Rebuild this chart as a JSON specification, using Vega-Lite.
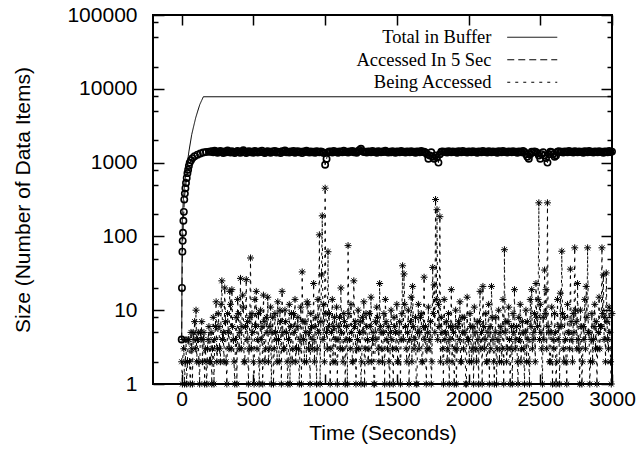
{
  "$schema": "https://vega.github.io/schema/vega-lite/v6.json",
  "width": 459,
  "height": 369,
  "autosize": {"type": "none"},
  "padding": {"left": 153, "top": 15, "right": 30, "bottom": 73},
  "background": "white",
  "config": {
    "view": {"stroke": "black", "strokeWidth": 2},
    "axis": {
      "domain": false,
      "grid": false,
      "tickColor": "black",
      "tickWidth": 1.5,
      "labelColor": "black",
      "titleColor": "black",
      "labelFont": "Liberation Sans",
      "titleFont": "Liberation Sans",
      "labelFontSize": 21,
      "titleFontSize": 21,
      "titleFontWeight": "normal",
      "labelOverlap": false,
      "labelFlush": false
    },
    "legend": {
      "orient": "none",
      "legendX": 330,
      "legendY": 13,
      "padding": 0,
      "symbolType": "M-5,0L5,0",
      "symbolSize": 100,
      "symbolStrokeWidth": 1,
      "symbolStrokeColor": "black",
      "symbolFillColor": "transparent",
      "symbolOffset": 40,
      "labelFont": "Liberation Serif",
      "labelFontSize": 18.5,
      "labelColor": "black",
      "labelAlign": "right",
      "labelOffset": -50,
      "rowPadding": 3.5,
      "labelLimit": 0
    }
  },
  "datasets": {
    "total": [
      {"t": 0, "v": 4}, {"t": 3, "v": 100}, {"t": 6, "v": 200}, {"t": 10, "v": 280}, {"t": 14, "v": 365},
      {"t": 20, "v": 500}, {"t": 35, "v": 850}, {"t": 50, "v": 1400}, {"t": 70, "v": 2400}, {"t": 85, "v": 3200},
      {"t": 98, "v": 4070}, {"t": 112, "v": 5000}, {"t": 126, "v": 6100}, {"t": 140, "v": 7000}, {"t": 151, "v": 7800},
      {"t": 3000, "v": 7800}
    ],
    "acc": [
      {"t":0,"v":4},{"t":2,"v":20},{"t":5,"v":62},{"t":7,"v":87},{"t":9,"v":112},{"t":12,"v":163},{"t":15,"v":215},{"t":18,"v":315},{"t":22,"v":380},{"t":26,"v":450},{"t":30,"v":530},{"t":35,"v":620},{"t":40,"v":720},{"t":45,"v":800},{"t":50,"v":900},{"t":56,"v":1000},{"t":65,"v":1080},{"t":75,"v":1150},{"t":90,"v":1220},{"t":110,"v":1280},{"t":130,"v":1330},{"t":150,"v":1370},{"t":170,"v":1390},{"t":190,"v":1410},
      {"t":200,"v":1400},{"t":210,"v":1430},{"t":220,"v":1380},{"t":230,"v":1450},{"t":240,"v":1420},{"t":250,"v":1360},{"t":260,"v":1400},{"t":270,"v":1440},{"t":280,"v":1390},{"t":290,"v":1350},
      {"t":300,"v":1420},{"t":310,"v":1380},{"t":320,"v":1460},{"t":330,"v":1400},{"t":340,"v":1370},{"t":350,"v":1430},{"t":360,"v":1390},{"t":370,"v":1350},{"t":380,"v":1410},{"t":390,"v":1440},
      {"t":400,"v":1380},{"t":410,"v":1360},{"t":420,"v":1420},{"t":430,"v":1470},{"t":440,"v":1390},{"t":450,"v":1350},{"t":460,"v":1400},{"t":470,"v":1430},{"t":480,"v":1380},{"t":490,"v":1410},
      {"t":500,"v":1360},{"t":510,"v":1440},{"t":520,"v":1400},{"t":530,"v":1370},{"t":540,"v":1420},{"t":550,"v":1390},{"t":560,"v":1450},{"t":570,"v":1380},{"t":580,"v":1350},{"t":590,"v":1410},
      {"t":600,"v":1430},{"t":610,"v":1390},{"t":620,"v":1360},{"t":630,"v":1420},{"t":640,"v":1400},{"t":650,"v":1440},{"t":660,"v":1370},{"t":670,"v":1410},{"t":680,"v":1390},{"t":690,"v":1350},
      {"t":700,"v":1430},{"t":710,"v":1400},{"t":720,"v":1460},{"t":730,"v":1380},{"t":740,"v":1410},{"t":750,"v":1370},{"t":760,"v":1420},{"t":770,"v":1390},{"t":780,"v":1440},{"t":790,"v":1360},
      {"t":800,"v":1400},{"t":810,"v":1430},{"t":820,"v":1380},{"t":830,"v":1410},{"t":840,"v":1350},{"t":850,"v":1420},{"t":860,"v":1390},{"t":870,"v":1450},{"t":880,"v":1400},{"t":890,"v":1370},
      {"t":900,"v":1420},{"t":910,"v":1380},{"t":920,"v":1410},{"t":930,"v":1360},{"t":940,"v":1430},{"t":950,"v":1400},{"t":960,"v":1380},{"t":970,"v":1420},{"t":980,"v":1390},{"t":990,"v":1350},
      {"t":1000,"v":935},{"t":1010,"v":1120},{"t":1020,"v":1380},{"t":1030,"v":1420},{"t":1040,"v":1400},{"t":1050,"v":1370},{"t":1060,"v":1440},{"t":1070,"v":1390},{"t":1080,"v":1410},{"t":1090,"v":1360},
      {"t":1100,"v":1420},{"t":1110,"v":1400},{"t":1120,"v":1380},{"t":1130,"v":1450},{"t":1140,"v":1390},{"t":1150,"v":1410},{"t":1160,"v":1370},{"t":1170,"v":1420},{"t":1180,"v":1400},{"t":1190,"v":1440},
      {"t":1200,"v":1380},{"t":1210,"v":1410},{"t":1220,"v":1360},{"t":1230,"v":1430},{"t":1240,"v":1480},{"t":1250,"v":1540},{"t":1260,"v":1420},{"t":1270,"v":1390},{"t":1280,"v":1410},{"t":1290,"v":1370},
      {"t":1300,"v":1420},{"t":1310,"v":1400},{"t":1320,"v":1380},{"t":1330,"v":1440},{"t":1340,"v":1390},{"t":1350,"v":1410},{"t":1360,"v":1360},{"t":1370,"v":1430},{"t":1380,"v":1400},{"t":1390,"v":1380},
      {"t":1400,"v":1420},{"t":1410,"v":1390},{"t":1420,"v":1450},{"t":1430,"v":1400},{"t":1440,"v":1370},{"t":1450,"v":1410},{"t":1460,"v":1380},{"t":1470,"v":1430},{"t":1480,"v":1390},{"t":1490,"v":1360},
      {"t":1500,"v":1420},{"t":1510,"v":1400},{"t":1520,"v":1380},{"t":1530,"v":1440},{"t":1540,"v":1390},{"t":1550,"v":1410},{"t":1560,"v":1370},{"t":1570,"v":1420},{"t":1580,"v":1400},{"t":1590,"v":1380},
      {"t":1600,"v":1430},{"t":1610,"v":1390},{"t":1620,"v":1410},{"t":1630,"v":1360},{"t":1640,"v":1420},{"t":1650,"v":1400},{"t":1660,"v":1380},{"t":1670,"v":1440},{"t":1680,"v":1390},{"t":1690,"v":1410},
      {"t":1700,"v":1370},{"t":1710,"v":1300},{"t":1720,"v":1130},{"t":1730,"v":1250},{"t":1740,"v":1380},{"t":1750,"v":1200},{"t":1760,"v":1130},{"t":1770,"v":1250},{"t":1780,"v":1180},{"t":1790,"v":1000},
      {"t":1800,"v":1300},{"t":1810,"v":1400},{"t":1820,"v":1420},{"t":1830,"v":1390},{"t":1840,"v":1410},{"t":1850,"v":1370},{"t":1860,"v":1430},{"t":1870,"v":1400},{"t":1880,"v":1380},{"t":1890,"v":1420},
      {"t":1900,"v":1390},{"t":1910,"v":1410},{"t":1920,"v":1360},{"t":1930,"v":1430},{"t":1940,"v":1400},{"t":1950,"v":1380},{"t":1960,"v":1440},{"t":1970,"v":1390},{"t":1980,"v":1410},{"t":1990,"v":1370},
      {"t":2000,"v":1420},{"t":2010,"v":1400},{"t":2020,"v":1380},{"t":2030,"v":1430},{"t":2040,"v":1390},{"t":2050,"v":1410},{"t":2060,"v":1360},{"t":2070,"v":1420},{"t":2080,"v":1400},{"t":2090,"v":1380},
      {"t":2100,"v":1440},{"t":2110,"v":1390},{"t":2120,"v":1410},{"t":2130,"v":1370},{"t":2140,"v":1430},{"t":2150,"v":1400},{"t":2160,"v":1380},{"t":2170,"v":1420},{"t":2180,"v":1390},{"t":2190,"v":1410},
      {"t":2200,"v":1360},{"t":2210,"v":1430},{"t":2220,"v":1400},{"t":2230,"v":1380},{"t":2240,"v":1440},{"t":2250,"v":1390},{"t":2260,"v":1410},{"t":2270,"v":1370},{"t":2280,"v":1420},{"t":2290,"v":1400},
      {"t":2300,"v":1380},{"t":2310,"v":1430},{"t":2320,"v":1390},{"t":2330,"v":1410},{"t":2340,"v":1360},{"t":2350,"v":1420},{"t":2360,"v":1400},{"t":2370,"v":1380},{"t":2380,"v":1440},{"t":2390,"v":1390},
      {"t":2400,"v":1300},{"t":2410,"v":1200},{"t":2420,"v":1130},{"t":2430,"v":1300},{"t":2440,"v":1400},{"t":2450,"v":1380},{"t":2460,"v":1420},{"t":2470,"v":1390},{"t":2480,"v":1350},{"t":2490,"v":1250},
      {"t":2500,"v":1130},{"t":2510,"v":1300},{"t":2520,"v":1380},{"t":2530,"v":1250},{"t":2540,"v":1150},{"t":2550,"v":1000},{"t":2560,"v":1300},{"t":2570,"v":1400},{"t":2580,"v":1380},{"t":2590,"v":1300},
      {"t":2600,"v":1200},{"t":2610,"v":1250},{"t":2620,"v":1400},{"t":2630,"v":1430},{"t":2640,"v":1390},{"t":2650,"v":1410},{"t":2660,"v":1370},{"t":2670,"v":1420},{"t":2680,"v":1400},{"t":2690,"v":1380},
      {"t":2700,"v":1440},{"t":2710,"v":1390},{"t":2720,"v":1410},{"t":2730,"v":1370},{"t":2740,"v":1430},{"t":2750,"v":1400},{"t":2760,"v":1380},{"t":2770,"v":1420},{"t":2780,"v":1390},{"t":2790,"v":1410},
      {"t":2800,"v":1360},{"t":2810,"v":1430},{"t":2820,"v":1400},{"t":2830,"v":1380},{"t":2840,"v":1440},{"t":2850,"v":1390},{"t":2860,"v":1410},{"t":2870,"v":1370},{"t":2880,"v":1420},{"t":2890,"v":1400},
      {"t":2900,"v":1380},{"t":2910,"v":1430},{"t":2920,"v":1390},{"t":2930,"v":1410},{"t":2940,"v":1360},{"t":2950,"v":1420},{"t":2960,"v":1400},{"t":2970,"v":1380},{"t":2980,"v":1440},{"t":2990,"v":1390},{"t":3000,"v":1410}
    ],
    "being": [
      {"t":0,"v":2},{"t":10,"v":4},{"t":20,"v":1},{"t":30,"v":4},{"t":40,"v":2},{"t":50,"v":4},{"t":60,"v":1},{"t":70,"v":3},{"t":80,"v":5},{"t":90,"v":7},
      {"t":100,"v":10},{"t":110,"v":4},{"t":120,"v":2},{"t":130,"v":5},{"t":140,"v":7},{"t":150,"v":4},{"t":160,"v":1},{"t":170,"v":2},{"t":180,"v":3},{"t":190,"v":6},
      {"t":200,"v":2},{"t":210,"v":1},{"t":220,"v":8},{"t":230,"v":4},{"t":240,"v":13},{"t":250,"v":3},{"t":260,"v":6},{"t":270,"v":2},{"t":280,"v":25},{"t":290,"v":5},
      {"t":300,"v":20},{"t":310,"v":2},{"t":320,"v":9},{"t":330,"v":3},{"t":340,"v":12},{"t":350,"v":19},{"t":360,"v":4},{"t":370,"v":1},{"t":380,"v":8},{"t":390,"v":14},
      {"t":400,"v":3},{"t":410,"v":27},{"t":420,"v":6},{"t":430,"v":11},{"t":440,"v":2},{"t":450,"v":26},{"t":460,"v":7},{"t":470,"v":3},{"t":480,"v":51},{"t":490,"v":9},
      {"t":500,"v":2},{"t":510,"v":14},{"t":520,"v":18},{"t":530,"v":4},{"t":540,"v":1},{"t":550,"v":10},{"t":560,"v":6},{"t":570,"v":16},{"t":580,"v":2},{"t":590,"v":8},
      {"t":600,"v":15},{"t":610,"v":3},{"t":620,"v":11},{"t":630,"v":5},{"t":640,"v":1},{"t":650,"v":9},{"t":660,"v":4},{"t":670,"v":13},{"t":680,"v":2},{"t":690,"v":7},
      {"t":700,"v":18},{"t":710,"v":3},{"t":720,"v":10},{"t":730,"v":5},{"t":740,"v":1},{"t":750,"v":12},{"t":760,"v":6},{"t":770,"v":2},{"t":780,"v":9},{"t":790,"v":14},
      {"t":800,"v":3},{"t":810,"v":8},{"t":820,"v":1},{"t":830,"v":11},{"t":840,"v":33},{"t":850,"v":4},{"t":860,"v":7},{"t":870,"v":2},{"t":880,"v":12},{"t":890,"v":5},
      {"t":900,"v":9},{"t":910,"v":3},{"t":920,"v":23},{"t":930,"v":6},{"t":940,"v":1},{"t":950,"v":14},{"t":960,"v":105},{"t":970,"v":7},{"t":980,"v":190},{"t":990,"v":12},
      {"t":1000,"v":450},{"t":1010,"v":5},{"t":1020,"v":62},{"t":1030,"v":9},{"t":1040,"v":3},{"t":1050,"v":14},{"t":1060,"v":6},{"t":1070,"v":2},{"t":1080,"v":11},{"t":1090,"v":4},
      {"t":1100,"v":8},{"t":1110,"v":20},{"t":1120,"v":3},{"t":1130,"v":9},{"t":1140,"v":1},{"t":1150,"v":6},{"t":1160,"v":75},{"t":1170,"v":4},{"t":1180,"v":12},{"t":1190,"v":2},
      {"t":1200,"v":25},{"t":1210,"v":7},{"t":1220,"v":3},{"t":1230,"v":10},{"t":1240,"v":5},{"t":1250,"v":1},{"t":1260,"v":8},{"t":1270,"v":13},{"t":1280,"v":3},{"t":1290,"v":6},
      {"t":1300,"v":2},{"t":1310,"v":9},{"t":1320,"v":15},{"t":1330,"v":4},{"t":1340,"v":1},{"t":1350,"v":7},{"t":1360,"v":11},{"t":1370,"v":3},{"t":1380,"v":23},{"t":1390,"v":5},
      {"t":1400,"v":2},{"t":1410,"v":9},{"t":1420,"v":14},{"t":1430,"v":4},{"t":1440,"v":6},{"t":1450,"v":1},{"t":1460,"v":10},{"t":1470,"v":3},{"t":1480,"v":8},{"t":1490,"v":5},
      {"t":1500,"v":12},{"t":1510,"v":2},{"t":1520,"v":7},{"t":1530,"v":4},{"t":1540,"v":40},{"t":1550,"v":31},{"t":1560,"v":6},{"t":1570,"v":2},{"t":1580,"v":10},{"t":1590,"v":4},
      {"t":1600,"v":15},{"t":1610,"v":21},{"t":1620,"v":3},{"t":1630,"v":8},{"t":1640,"v":1},{"t":1650,"v":12},{"t":1660,"v":5},{"t":1670,"v":9},{"t":1680,"v":2},{"t":1690,"v":28},
      {"t":1700,"v":6},{"t":1710,"v":3},{"t":1720,"v":11},{"t":1730,"v":4},{"t":1740,"v":1},{"t":1750,"v":38},{"t":1760,"v":22},{"t":1770,"v":316},{"t":1780,"v":230},{"t":1790,"v":12},
      {"t":1800,"v":185},{"t":1810,"v":8},{"t":1820,"v":3},{"t":1830,"v":14},{"t":1840,"v":5},{"t":1850,"v":2},{"t":1860,"v":9},{"t":1870,"v":4},{"t":1880,"v":19},{"t":1890,"v":6},
      {"t":1900,"v":1},{"t":1910,"v":10},{"t":1920,"v":3},{"t":1930,"v":7},{"t":1940,"v":13},{"t":1950,"v":2},{"t":1960,"v":5},{"t":1970,"v":8},{"t":1980,"v":1},{"t":1990,"v":15},
      {"t":2000,"v":4},{"t":2010,"v":9},{"t":2020,"v":2},{"t":2030,"v":6},{"t":2040,"v":11},{"t":2050,"v":3},{"t":2060,"v":7},{"t":2070,"v":1},{"t":2080,"v":18},{"t":2090,"v":5},
      {"t":2100,"v":21},{"t":2110,"v":3},{"t":2120,"v":9},{"t":2130,"v":2},{"t":2140,"v":12},{"t":2150,"v":6},{"t":2160,"v":21},{"t":2170,"v":4},{"t":2180,"v":1},{"t":2190,"v":8},
      {"t":2200,"v":3},{"t":2210,"v":10},{"t":2220,"v":5},{"t":2230,"v":2},{"t":2240,"v":14},{"t":2250,"v":66},{"t":2260,"v":7},{"t":2270,"v":3},{"t":2280,"v":11},{"t":2290,"v":1},
      {"t":2300,"v":6},{"t":2310,"v":9},{"t":2320,"v":19},{"t":2330,"v":4},{"t":2340,"v":2},{"t":2350,"v":8},{"t":2360,"v":12},{"t":2370,"v":3},{"t":2380,"v":5},{"t":2390,"v":1},
      {"t":2400,"v":10},{"t":2410,"v":7},{"t":2420,"v":2},{"t":2430,"v":14},{"t":2440,"v":19},{"t":2450,"v":4},{"t":2460,"v":9},{"t":2470,"v":23},{"t":2480,"v":6},{"t":2490,"v":285},
      {"t":2500,"v":12},{"t":2510,"v":3},{"t":2520,"v":8},{"t":2530,"v":35},{"t":2540,"v":19},{"t":2550,"v":285},{"t":2560,"v":5},{"t":2570,"v":2},{"t":2580,"v":11},{"t":2590,"v":4},
      {"t":2600,"v":9},{"t":2610,"v":1},{"t":2620,"v":14},{"t":2630,"v":6},{"t":2640,"v":17},{"t":2650,"v":63},{"t":2660,"v":3},{"t":2670,"v":8},{"t":2680,"v":2},{"t":2690,"v":12},
      {"t":2700,"v":5},{"t":2710,"v":36},{"t":2720,"v":4},{"t":2730,"v":9},{"t":2740,"v":70},{"t":2750,"v":7},{"t":2760,"v":23},{"t":2770,"v":3},{"t":2780,"v":10},{"t":2790,"v":1},
      {"t":2800,"v":6},{"t":2810,"v":14},{"t":2820,"v":21},{"t":2830,"v":70},{"t":2840,"v":5},{"t":2850,"v":2},{"t":2860,"v":9},{"t":2870,"v":4},{"t":2880,"v":12},{"t":2890,"v":7},
      {"t":2900,"v":3},{"t":2910,"v":15},{"t":2920,"v":6},{"t":2930,"v":70},{"t":2940,"v":30},{"t":2950,"v":8},{"t":2960,"v":32},{"t":2970,"v":4},{"t":2980,"v":11},{"t":2990,"v":2},{"t":3000,"v":9},
      {"t":5,"v":1},{"t":15,"v":3},{"t":25,"v":2},{"t":35,"v":1},{"t":45,"v":4},{"t":55,"v":2},{"t":65,"v":5},{"t":75,"v":1},{"t":85,"v":4},{"t":95,"v":3},
      {"t":105,"v":2},{"t":115,"v":5},{"t":125,"v":1},{"t":135,"v":4},{"t":145,"v":2},{"t":155,"v":5},{"t":165,"v":3},{"t":175,"v":1},{"t":185,"v":4},{"t":195,"v":2},
      {"t":205,"v":5},{"t":215,"v":3},{"t":225,"v":1},{"t":235,"v":6},{"t":245,"v":2},{"t":255,"v":9},{"t":265,"v":3},{"t":275,"v":12},{"t":285,"v":4},{"t":295,"v":2},
      {"t":305,"v":7},{"t":315,"v":1},{"t":325,"v":5},{"t":335,"v":18},{"t":345,"v":3},{"t":355,"v":6},{"t":365,"v":2},{"t":375,"v":4},{"t":385,"v":1},{"t":395,"v":9},
      {"t":405,"v":5},{"t":415,"v":3},{"t":425,"v":16},{"t":435,"v":2},{"t":445,"v":6},{"t":455,"v":4},{"t":465,"v":1},{"t":475,"v":8},{"t":485,"v":3},{"t":495,"v":5},
      {"t":505,"v":1},{"t":515,"v":6},{"t":525,"v":3},{"t":535,"v":9},{"t":545,"v":2},{"t":555,"v":4},{"t":565,"v":1},{"t":575,"v":7},{"t":585,"v":3},{"t":595,"v":5},
      {"t":605,"v":2},{"t":615,"v":6},{"t":625,"v":1},{"t":635,"v":8},{"t":645,"v":3},{"t":655,"v":5},{"t":665,"v":2},{"t":675,"v":4},{"t":685,"v":10},{"t":695,"v":1},
      {"t":705,"v":5},{"t":715,"v":3},{"t":725,"v":7},{"t":735,"v":2},{"t":745,"v":4},{"t":755,"v":1},{"t":765,"v":9},{"t":775,"v":3},{"t":785,"v":5},{"t":795,"v":2},
      {"t":805,"v":6},{"t":815,"v":3},{"t":825,"v":4},{"t":835,"v":1},{"t":845,"v":7},{"t":855,"v":2},{"t":865,"v":5},{"t":875,"v":13},{"t":885,"v":3},{"t":895,"v":1},
      {"t":905,"v":6},{"t":915,"v":4},{"t":925,"v":2},{"t":935,"v":8},{"t":945,"v":3},{"t":955,"v":5},{"t":965,"v":1},{"t":975,"v":30},{"t":985,"v":4},{"t":995,"v":2},
      {"t":1005,"v":9},{"t":1015,"v":3},{"t":1025,"v":6},{"t":1035,"v":1},{"t":1045,"v":5},{"t":1055,"v":2},{"t":1065,"v":8},{"t":1075,"v":4},{"t":1085,"v":1},{"t":1095,"v":6},
      {"t":1105,"v":3},{"t":1115,"v":5},{"t":1125,"v":2},{"t":1135,"v":7},{"t":1145,"v":4},{"t":1155,"v":1},{"t":1165,"v":9},{"t":1175,"v":3},{"t":1185,"v":5},{"t":1195,"v":2},
      {"t":1205,"v":6},{"t":1215,"v":1},{"t":1225,"v":4},{"t":1235,"v":3},{"t":1245,"v":7},{"t":1255,"v":2},{"t":1265,"v":5},{"t":1275,"v":1},{"t":1285,"v":9},{"t":1295,"v":4},
      {"t":1305,"v":3},{"t":1315,"v":6},{"t":1325,"v":2},{"t":1335,"v":5},{"t":1345,"v":1},{"t":1355,"v":4},{"t":1365,"v":8},{"t":1375,"v":2},{"t":1385,"v":6},{"t":1395,"v":3},
      {"t":1405,"v":5},{"t":1415,"v":1},{"t":1425,"v":7},{"t":1435,"v":3},{"t":1445,"v":2},{"t":1455,"v":5},{"t":1465,"v":4},{"t":1475,"v":1},{"t":1485,"v":6},{"t":1495,"v":3},
      {"t":1505,"v":2},{"t":1515,"v":5},{"t":1525,"v":1},{"t":1535,"v":9},{"t":1545,"v":4},{"t":1555,"v":12},{"t":1565,"v":3},{"t":1575,"v":5},{"t":1585,"v":1},{"t":1595,"v":7},
      {"t":1605,"v":2},{"t":1615,"v":6},{"t":1625,"v":4},{"t":1635,"v":1},{"t":1645,"v":5},{"t":1655,"v":3},{"t":1665,"v":8},{"t":1675,"v":2},{"t":1685,"v":6},{"t":1695,"v":4},
      {"t":1705,"v":1},{"t":1715,"v":5},{"t":1725,"v":3},{"t":1735,"v":7},{"t":1745,"v":2},{"t":1755,"v":9},{"t":1765,"v":5},{"t":1775,"v":14},{"t":1785,"v":4},{"t":1795,"v":6},
      {"t":1805,"v":2},{"t":1815,"v":5},{"t":1825,"v":1},{"t":1835,"v":4},{"t":1845,"v":7},{"t":1855,"v":3},{"t":1865,"v":1},{"t":1875,"v":6},{"t":1885,"v":2},{"t":1895,"v":5},
      {"t":1905,"v":3},{"t":1915,"v":1},{"t":1925,"v":6},{"t":1935,"v":4},{"t":1945,"v":2},{"t":1955,"v":8},{"t":1965,"v":3},{"t":1975,"v":5},{"t":1985,"v":1},{"t":1995,"v":4},
      {"t":2005,"v":2},{"t":2015,"v":6},{"t":2025,"v":3},{"t":2035,"v":1},{"t":2045,"v":5},{"t":2055,"v":2},{"t":2065,"v":4},{"t":2075,"v":7},{"t":2085,"v":3},{"t":2095,"v":1},
      {"t":2105,"v":6},{"t":2115,"v":4},{"t":2125,"v":2},{"t":2135,"v":5},{"t":2145,"v":1},{"t":2155,"v":3},{"t":2165,"v":8},{"t":2175,"v":2},{"t":2185,"v":5},{"t":2195,"v":1},
      {"t":2205,"v":4},{"t":2215,"v":2},{"t":2225,"v":6},{"t":2235,"v":3},{"t":2245,"v":1},{"t":2255,"v":5},{"t":2265,"v":2},{"t":2275,"v":7},{"t":2285,"v":4},{"t":2295,"v":3},
      {"t":2305,"v":1},{"t":2315,"v":5},{"t":2325,"v":3},{"t":2335,"v":6},{"t":2345,"v":1},{"t":2355,"v":4},{"t":2365,"v":2},{"t":2375,"v":7},{"t":2385,"v":3},{"t":2395,"v":5},
      {"t":2405,"v":2},{"t":2415,"v":4},{"t":2425,"v":1},{"t":2435,"v":6},{"t":2445,"v":3},{"t":2455,"v":5},{"t":2465,"v":2},{"t":2475,"v":8},{"t":2485,"v":14},{"t":2495,"v":4},
      {"t":2505,"v":5},{"t":2515,"v":1},{"t":2525,"v":4},{"t":2535,"v":9},{"t":2545,"v":3},{"t":2555,"v":6},{"t":2565,"v":2},{"t":2575,"v":5},{"t":2585,"v":1},{"t":2595,"v":3},
      {"t":2605,"v":5},{"t":2615,"v":2},{"t":2625,"v":4},{"t":2635,"v":1},{"t":2645,"v":6},{"t":2655,"v":9},{"t":2665,"v":2},{"t":2675,"v":4},{"t":2685,"v":1},{"t":2695,"v":5},
      {"t":2705,"v":3},{"t":2715,"v":7},{"t":2725,"v":2},{"t":2735,"v":5},{"t":2745,"v":10},{"t":2755,"v":3},{"t":2765,"v":4},{"t":2775,"v":1},{"t":2785,"v":6},{"t":2795,"v":2},
      {"t":2805,"v":4},{"t":2815,"v":3},{"t":2825,"v":8},{"t":2835,"v":5},{"t":2845,"v":1},{"t":2855,"v":4},{"t":2865,"v":2},{"t":2875,"v":6},{"t":2885,"v":3},{"t":2895,"v":1},
      {"t":2905,"v":5},{"t":2915,"v":3},{"t":2925,"v":6},{"t":2935,"v":9},{"t":2945,"v":4},{"t":2955,"v":2},{"t":2965,"v":7},{"t":2975,"v":3},{"t":2985,"v":5},{"t":2995,"v":1}
    ]
  },
  "resolve": {"axis": {"x": "independent", "y": "independent"}},
  "layer": [
    {
      "data": {"name": "total"},
      "mark": {"type": "line", "color": "black", "strokeWidth": 1},
      "encoding": {
        "x": {
          "field": "t", "type": "quantitative",
          "scale": {"domain": [-200, 3000], "nice": false, "zero": false},
          "axis": {
            "orient": "bottom", "title": "Time (Seconds)",
            "values": [0, 500, 1000, 1500, 2000, 2500, 3000],
            "format": "d", "tickSize": -10, "labelPadding": 14,
            "titleY": 49, "titleBaseline": "middle"
          }
        },
        "y": {
          "field": "v", "type": "quantitative",
          "scale": {"type": "log", "domain": [1, 100000], "nice": false},
          "axis": {
            "orient": "left", "title": "Size (Number of Data Items)",
            "values": [1, 2, 5, 8, 10, 20, 50, 80, 100, 200, 500, 800, 1000, 2000, 5000, 8000, 10000, 20000, 50000, 80000, 100000],
            "labelExpr": "indexof([1,10,100,1000,10000,100000], datum.value) >= 0 ? format(datum.value, 'd') : ''",
            "tickSize": {"condition": {"test": "indexof([1,10,100,1000,10000,100000], datum.value) >= 0", "value": -11}, "value": -5},
            "labelPadding": 27,
            "titleX": -130, "titleY": 184.5, "titleBaseline": "middle", "titleAngle": -90
          }
        },
        "strokeDash": {
          "datum": "Total in Buffer",
          "scale": {"domain": ["Total in Buffer", "Accessed In 5 Sec", "Being Accessed"], "range": [[1, 0], [7, 4], [3, 5]]},
          "legend": {"title": null}
        }
      }
    },
    {
      "data": {"name": "acc"},
      "mark": {"type": "line", "color": "black", "strokeWidth": 1},
      "encoding": {
        "x": {
          "field": "t", "type": "quantitative",
          "axis": {"orient": "top", "title": null, "labels": false, "values": [0, 500, 1000, 1500, 2000, 2500, 3000], "tickSize": -10}
        },
        "y": {
          "field": "v", "type": "quantitative",
          "axis": {
            "orient": "right", "title": null, "labels": false,
            "values": [1, 2, 5, 8, 10, 20, 50, 80, 100, 200, 500, 800, 1000, 2000, 5000, 8000, 10000, 20000, 50000, 80000, 100000],
            "tickSize": {"condition": {"test": "indexof([1,10,100,1000,10000,100000], datum.value) >= 0", "value": -11}, "value": -5}
          }
        },
        "strokeDash": {"datum": "Accessed In 5 Sec"}
      }
    },
    {
      "data": {"name": "acc"},
      "mark": {"type": "point", "shape": "circle", "size": 40, "stroke": "black", "strokeWidth": 1.6, "filled": false, "opacity": 1},
      "encoding": {
        "x": {"field": "t", "type": "quantitative", "axis": null},
        "y": {"field": "v", "type": "quantitative", "axis": null}
      }
    },
    {
      "data": {"name": "being"},
      "mark": {"type": "line", "color": "black", "strokeWidth": 1},
      "encoding": {
        "x": {"field": "t", "type": "quantitative", "axis": null},
        "y": {"field": "v", "type": "quantitative", "axis": null},
        "strokeDash": {"datum": "Being Accessed"}
      }
    },
    {
      "data": {"name": "being"},
      "mark": {"type": "point", "shape": "M-1,0L1,0M0,-1L0,1M-0.7,-0.7L0.7,0.7M-0.7,0.7L0.7,-0.7", "size": 49, "stroke": "black", "strokeWidth": 1, "filled": false, "opacity": 1},
      "encoding": {
        "x": {"field": "t", "type": "quantitative", "axis": null},
        "y": {"field": "v", "type": "quantitative", "axis": null}
      }
    }
  ]
}
